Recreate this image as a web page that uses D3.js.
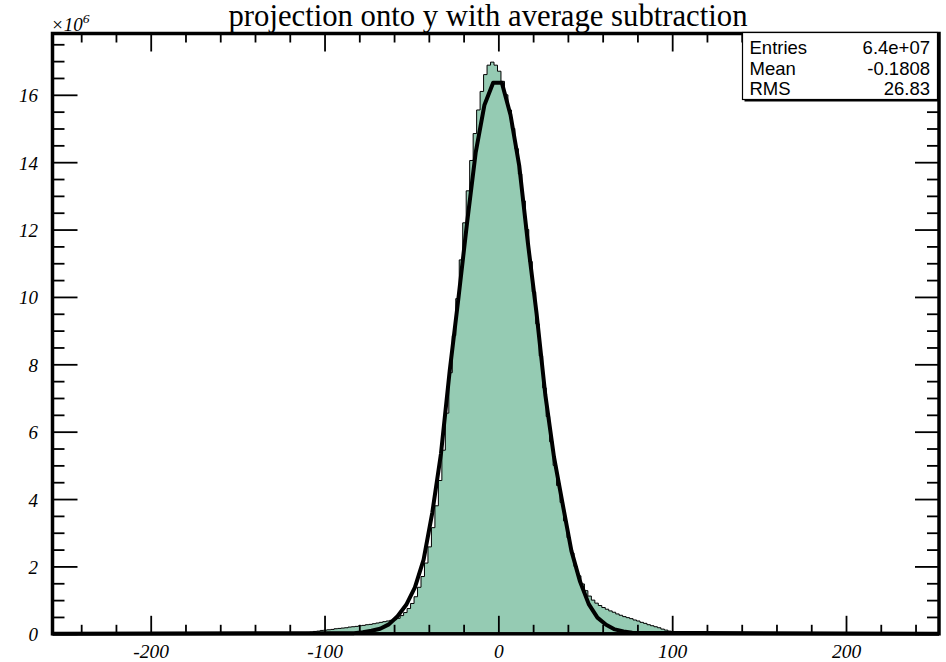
<!DOCTYPE html>
<html>
<head>
<meta charset="utf-8">
<script src="https://cdn.jsdelivr.net/npm/d3@7"></script>
<style>
  html, body { margin: 0; padding: 0; background: #ffffff; }
  svg { display: block; }
</style>
</head>
<body>
<svg id="chart" width="946" height="662"></svg>
<script>
// ---- data (counts in units of 10^6) ----
const histStart = -112.5;   // lower edge of first filled bin
const binWidth = 2;
const histCounts = [
  0.03, 0.04, 0.05, 0.07, 0.08, 0.10, 0.11, 0.12, 0.13, 0.15,
  0.16, 0.17, 0.18, 0.20, 0.21, 0.22, 0.24, 0.25, 0.27, 0.28,
  0.30, 0.32, 0.34, 0.36, 0.38, 0.40,
  0.42, 0.46, 0.54, 0.63, 0.75, 0.90, 1.10, 1.38, 1.70, 2.10,
  2.58, 3.15, 3.80, 4.55, 5.45, 6.55, 7.75, 8.85, 9.95, 11.10,
  12.20, 13.15, 14.05, 14.85, 15.55, 16.10, 16.60, 16.88, 16.97, 16.88,
  16.70, 16.40, 16.00, 15.55, 15.00, 14.40, 13.65, 12.85, 12.00, 11.05,
  10.15, 9.20, 8.25, 7.30, 6.45, 5.70, 5.00, 4.40, 3.90, 3.35,
  2.85, 2.40, 2.00, 1.72, 1.48, 1.28, 1.12, 1.00, 0.91, 0.84,
  0.78, 0.73, 0.68, 0.64, 0.59, 0.55, 0.51, 0.48, 0.45, 0.41,
  0.38, 0.34, 0.31, 0.27, 0.24, 0.21, 0.18, 0.14, 0.11, 0.08,
  0.05, 0.02
];

// fitted curve, sampled points
const fitX = [-256.5, -83, -78, -73, -68, -63, -58, -53, -48, -43, -38, -33, -28, -23, -18, -13, -8, -3,
              2, 7, 12, 17, 22, 27, 32, 37, 42, 47, 52, 57, 62, 67, 72, 77, 253.5];
const fitY = [0, 0.02, 0.05, 0.09, 0.15, 0.28, 0.52, 0.86, 1.38, 2.20, 3.60, 5.35, 7.80, 9.95, 12.20, 14.30, 15.70, 16.36,
              16.36, 15.40, 13.90, 11.60, 9.50, 7.10, 5.25, 3.85, 2.47, 1.55, 0.88, 0.48, 0.27, 0.13, 0.07, 0.03, 0];

const xDomain = [-256.5, 253.5];
const yMax = 17.82;
const xMajorTicks = [-200, -100, 0, 100, 200];
const xMinorTicks = d3.range(-240, 241, 20).filter(v => v % 100 !== 0);
const yMajorTicks = [0, 2, 4, 6, 8, 10, 12, 14, 16];
const yMinorTicks = d3.range(0.5, 17.6, 0.5).filter(v => v % 2 !== 0);

const titleText = "projection onto y with average subtraction";
const statLabels = ["Entries", "Mean", "RMS"];
const statValues = ["6.4e+07", "-0.1808", "26.83"];

// ---- layout ----
const frame = { left: 52.5, right: 939, top: 33.5, bottom: 633.8 };
const svg = d3.select("#chart");

const x = d3.scaleLinear().domain(xDomain).range([frame.left, frame.right]);
const y = d3.scaleLinear().domain([0, yMax]).range([frame.bottom, frame.top]);

const serif = "'Liberation Serif', 'Times New Roman', Times, serif";
const sans = "'Liberation Sans', Arial, Helvetica, sans-serif";

// ---- histogram (step outline, filled) ----
const histPts = [{ x: xDomain[0], v: 0 }];
histCounts.forEach((v, i) => histPts.push({ x: histStart + i * binWidth, v }));
const histEnd = histStart + histCounts.length * binWidth;
histPts.push({ x: histEnd, v: 0 });
histPts.push({ x: xDomain[1], v: 0 });

const area = d3.area()
  .x(d => x(d.x)).y0(y(0)).y1(d => y(d.v))
  .curve(d3.curveStepAfter);
const outline = d3.line()
  .x(d => x(d.x)).y(d => y(d.v))
  .curve(d3.curveStepAfter);

svg.append("path").datum(histPts)
  .attr("d", area)
  .attr("fill", "#95cbb3");
svg.append("path").datum(histPts)
  .attr("d", outline)
  .attr("fill", "none")
  .attr("stroke", "#000")
  .attr("stroke-width", 1);

// ---- fit curve ----
const fitPts = fitX.map((vx, i) => ({ x: vx, v: fitY[i] }));
svg.append("path").datum(fitPts)
  .attr("d", d3.line().x(d => x(d.x)).y(d => y(d.v)))
  .attr("fill", "none")
  .attr("stroke", "#000")
  .attr("stroke-width", 4)
  .attr("stroke-linejoin", "round");

// ---- axes ----
function styleAxis(g) {
  g.select(".domain").remove();
  g.selectAll(".tick line").attr("stroke", "#000").attr("stroke-width", 1.8);
  g.selectAll(".tick text")
    .attr("fill", "#000")
    .attr("font-family", serif)
    .attr("font-style", "italic")
    .attr("font-size", 19.5);
}
const fmt = d => String(d);

svg.append("g").attr("transform", `translate(0,${frame.bottom})`)
  .call(d3.axisBottom(x).tickValues(xMajorTicks).tickSize(-18).tickPadding(10.5).tickFormat(fmt))
  .call(styleAxis);
svg.append("g").attr("transform", `translate(0,${frame.bottom})`)
  .call(d3.axisBottom(x).tickValues(xMinorTicks).tickSize(-9).tickFormat(""))
  .call(styleAxis);
svg.append("g").attr("transform", `translate(0,${frame.top})`)
  .call(d3.axisTop(x).tickValues(xMajorTicks).tickSize(-18).tickFormat(""))
  .call(styleAxis);
svg.append("g").attr("transform", `translate(0,${frame.top})`)
  .call(d3.axisTop(x).tickValues(xMinorTicks).tickSize(-9).tickFormat(""))
  .call(styleAxis);

const yAxisG = svg.append("g").attr("transform", `translate(${frame.left},0)`)
  .call(d3.axisLeft(y).tickValues(yMajorTicks).tickSize(-25).tickPadding(14.5).tickFormat(fmt))
  .call(styleAxis);
yAxisG.selectAll(".tick text").attr("dy", "0.37em").attr("font-size", 19);
svg.append("g").attr("transform", `translate(${frame.left},0)`)
  .call(d3.axisLeft(y).tickValues(yMinorTicks).tickSize(-12).tickFormat(""))
  .call(styleAxis);
svg.append("g").attr("transform", `translate(${frame.right},0)`)
  .call(d3.axisRight(y).tickValues(yMajorTicks).tickSize(-24).tickFormat(""))
  .call(styleAxis);
svg.append("g").attr("transform", `translate(${frame.right},0)`)
  .call(d3.axisRight(y).tickValues(yMinorTicks).tickSize(-12).tickFormat(""))
  .call(styleAxis);

// frame
svg.append("rect")
  .attr("x", frame.left).attr("y", frame.top)
  .attr("width", frame.right - frame.left).attr("height", frame.bottom - frame.top)
  .attr("fill", "none").attr("stroke", "#000").attr("stroke-width", 3.5);

// exponent label
const expo = svg.append("text")
  .attr("x", 51).attr("y", 30.5)
  .attr("font-family", serif).attr("font-style", "italic")
  .attr("font-size", 19).attr("fill", "#000");
expo.append("tspan").text("\u00d710");
expo.append("tspan").attr("dy", -8).attr("font-size", 13.5).text("6");

// ---- title ----
svg.append("text")
  .attr("x", 488).attr("y", 26)
  .attr("text-anchor", "middle")
  .attr("font-family", serif)
  .attr("font-size", 30.7)
  .attr("fill", "#000")
  .text(titleText);

// ---- statistics box ----
const box = { x: 742.5, y: 32.5, w: 195, h: 67 };
svg.append("rect")
  .attr("x", box.x + 2).attr("y", box.y + 2).attr("width", box.w).attr("height", box.h)
  .attr("fill", "#000");
svg.append("rect")
  .attr("x", box.x).attr("y", box.y).attr("width", box.w).attr("height", box.h)
  .attr("fill", "#fff").attr("stroke", "#000").attr("stroke-width", 1.2);

const rowBase = [53.5, 74.5, 95];
statLabels.forEach((lab, i) => {
  svg.append("text")
    .attr("x", 749.5).attr("y", rowBase[i])
    .attr("font-family", sans).attr("font-size", 18.5).attr("fill", "#000")
    .text(lab);
  svg.append("text")
    .attr("x", 930).attr("y", rowBase[i])
    .attr("text-anchor", "end")
    .attr("font-family", sans).attr("font-size", 18.5).attr("fill", "#000")
    .text(statValues[i]);
});
</script>
</body>
</html>
